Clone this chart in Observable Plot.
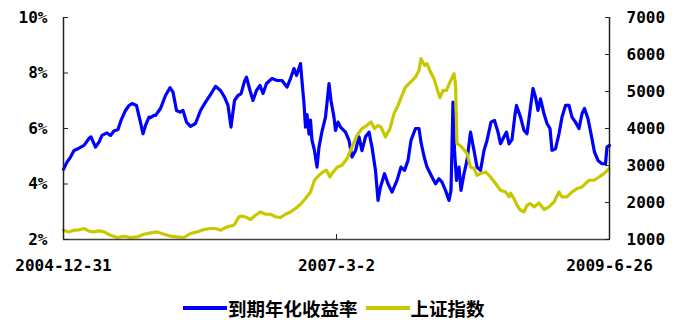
<!DOCTYPE html>
<html><head><meta charset="utf-8">
<script src="https://cdn.jsdelivr.net/npm/d3@7"></script>
<script src="https://cdn.jsdelivr.net/npm/@observablehq/plot@0.6"></script>
<style>
body{margin:0;background:#fff;}
#wrap{position:relative;width:680px;height:320px;overflow:hidden;}
#legend{position:absolute;left:183px;top:297px;display:flex;align-items:center;font-family:"Noto Sans CJK SC";font-weight:bold;font-size:18.5px;line-height:22px;color:#000;white-space:nowrap;}
.sw{display:inline-block;width:44px;height:4px;margin-right:1px;}
.gap{display:inline-block;width:8px;}
</style></head><body><div id="wrap"></div>
<script>
// 到期年化收益率 (%), by trading-day number
const ytmDay = [0,7,14,21,31,41,51,55,64,71,77,87,94,101,109,115,124,131,137,146,153,159,164,171,174,181,184,194,204,213,219,226,233,239,246,254,264,274,284,293,304,314,322,329,335,342,349,355,362,366,373,379,386,393,399,406,417,427,437,447,454,461,466,474,478,481,484,487,491,494,497,502,507,511,517,524,531,535,537,541,544,549,554,564,571,577,584,591,597,604,611,617,624,629,634,642,649,657,667,675,682,689,695,704,711,715,721,727,737,744,751,757,764,771,775,779,782,786,791,795,801,807,814,821,827,834,841,847,855,862,869,874,881,886,891,897,903,906,914,921,927,934,939,944,949,954,961,967,973,977,984,991,997,1004,1011,1017,1024,1031,1037,1042,1049,1055,1062,1069,1077,1084,1087,1092];
const ytmVal = [4.53,4.79,4.97,5.21,5.29,5.39,5.64,5.70,5.33,5.51,5.75,5.84,5.75,5.91,5.96,6.29,6.65,6.83,6.90,6.83,6.29,5.81,6.11,6.41,6.39,6.47,6.47,6.72,7.19,7.47,7.31,6.65,6.59,6.65,6.23,6.08,6.18,6.65,6.95,7.19,7.52,7.37,7.13,6.83,6.05,7.01,7.19,7.25,7.70,7.85,7.37,7.01,7.37,7.55,7.26,7.62,7.80,7.73,7.73,7.49,7.80,8.16,7.91,8.34,7.50,6.90,6.05,6.50,5.80,6.30,5.57,5.20,4.61,5.33,5.90,6.41,7.62,7.00,6.80,6.40,5.93,6.23,6.05,5.87,5.57,4.97,5.20,5.70,5.20,5.70,5.87,5.33,4.49,3.41,3.89,4.37,4.01,3.71,4.13,4.61,4.49,4.85,5.57,6.00,6.00,5.50,5.00,4.61,4.25,4.01,4.19,4.07,3.77,3.41,3.77,6.95,5.21,4.13,4.61,3.77,4.37,4.85,5.87,5.21,4.61,4.49,5.21,5.57,6.23,6.29,5.87,5.45,5.70,5.87,5.45,5.60,6.50,6.83,6.41,5.93,5.81,6.77,7.44,7.13,6.65,7.07,6.53,6.18,6.00,5.21,5.27,5.81,6.41,6.83,6.83,6.41,6.23,6.00,6.53,6.72,6.35,5.81,5.15,4.85,4.73,4.73,5.33,5.39];
// 上证指数, by trading-day number
const shDay = [0,11,21,31,41,51,61,71,81,94,107,121,134,147,161,174,187,201,214,227,241,254,267,281,294,304,314,327,341,351,358,364,374,384,394,404,414,424,434,444,454,464,474,484,494,502,511,519,526,533,537,544,548,557,567,577,587,597,607,615,622,629,635,644,653,661,669,677,684,694,704,711,715,722,727,734,741,747,753,759,766,773,781,784,787,793,799,807,814,821,827,834,844,854,864,874,884,891,894,901,907,914,921,927,934,941,951,961,971,981,991,997,1007,1017,1027,1037,1044,1051,1061,1071,1081,1091];
const shVal = [1251,1205,1251,1260,1297,1224,1205,1232,1205,1116,1054,1089,1054,1070,1143,1178,1205,1143,1089,1070,1054,1162,1205,1270,1297,1297,1251,1340,1386,1610,1630,1610,1540,1656,1745,1683,1683,1610,1594,1683,1745,1837,1953,2107,2285,2601,2736,2825,2871,2690,2782,2900,2960,3006,3187,3500,3816,3997,4086,4175,3997,4086,4040,3770,3997,4402,4626,4896,5120,5255,5390,5571,5887,5706,5752,5525,5347,5077,4834,5031,5031,5255,5482,5212,3592,3546,3457,3322,2960,2917,2736,2782,2825,2690,2512,2331,2285,2150,2250,2107,1926,1791,1745,1926,1972,1880,1988,1810,1880,2015,2285,2150,2150,2285,2376,2420,2512,2601,2601,2690,2782,2917];

const leftTicks = [2, 4, 6, 8, 10];
const rightTicks = [1000, 2000, 3000, 4000, 5000, 6000, 7000];
const xTickDays = [0, 546, 1092];
const xTickLabels = ["2004-12-31", "2007-3-2", "2009-6-26"];
const seriesNames = ["到期年化收益率", "上证指数"];
const seriesColors = ["#0000ff", "#c8c800"];

const yMin = 2, yMax = 10, idxMin = 1000, idxMax = 7000;
const toPct = v => yMin + (v - idxMin) / (idxMax - idxMin) * (yMax - yMin);
const toIdx = p => Math.round(idxMin + (p - yMin) / (yMax - yMin) * (idxMax - idxMin));

const ytm = ytmDay.map((d, i) => ({day: d, v: ytmVal[i]}));
const sh = shDay.map((d, i) => ({day: d, v: shVal[i]}));

const font = {fontFamily: "DejaVu Sans Mono", fontWeight: "bold", fontSize: 16, fill: "#000"};

const chart = Plot.plot({
  width: 680, height: 285,
  marginLeft: 63, marginRight: 71, marginTop: 17, marginBottom: 46,
  x: {domain: [0, 1092]},
  y: {domain: [yMin, yMax]},
  style: {background: "#fff", color: "#000"},
  marks: [
    Plot.line(ytm, {x: "day", y: "v", stroke: seriesColors[0], strokeWidth: 3.2}),
    Plot.line(sh, {x: "day", y: d => toPct(d.v), stroke: seriesColors[1], strokeWidth: 3.2}),
    Plot.ruleX([0, 1092], {stroke: "#222", strokeWidth: 1.5}),
    Plot.ruleY([yMin], {stroke: "#444", strokeWidth: 1.5}),
    Plot.axisY({anchor: "left", label: null, ticks: leftTicks, tickFormat: d => d + "%", tickSize: -5, tickPadding: 21, stroke: "#222", ...font}),
    Plot.axisY({anchor: "right", label: null, ticks: rightTicks.map(toPct), tickFormat: d => String(toIdx(d)), tickSize: -5, tickPadding: 22, stroke: "#222", ...font}),
    Plot.axisX({label: null, ticks: xTickDays, tickFormat: d => xTickLabels[xTickDays.indexOf(d)], tickSize: -5, tickPadding: 25, stroke: "#222", ...font})
  ]
});
const wrap = document.getElementById("wrap");
wrap.appendChild(chart);
const lg = document.createElement("div");
lg.id = "legend";
seriesNames.forEach((n, i) => {
  if (i > 0) { const g = document.createElement("span"); g.className = "gap"; lg.appendChild(g); }
  const s = document.createElement("span"); s.className = "sw"; s.style.background = seriesColors[i]; lg.appendChild(s);
  const t = document.createElement("span"); t.textContent = n; lg.appendChild(t);
});
wrap.appendChild(lg);
</script>
</body></html>
